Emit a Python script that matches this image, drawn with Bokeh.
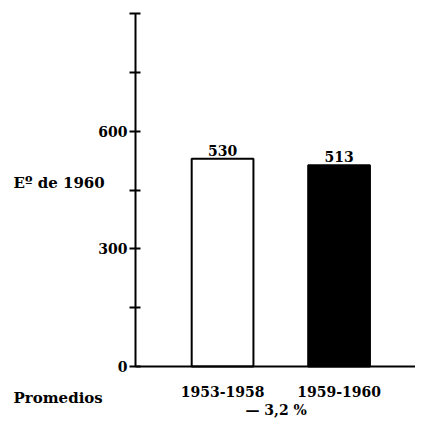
from bokeh.plotting import figure
from bokeh.models import ColumnDataSource, FixedTicker, Label, Range1d
from bokeh.core.properties import value
from bokeh.embed import file_html
from bokeh.resources import INLINE

# ---- data ----
periods = ["1953-1958", "1959-1960"]
values = [530, 513]
bar_fill = ["white", "black"]
positions = [1, 2]
y_ticks = [0, 150, 300, 450, 600, 750, 900]
y_tick_labels = ["0", "", "300", "", "600", "", ""]
y_axis_title = "Eº de 1960"
x_axis_title = "Promedios"
change_text = "— 3,2 %"

FONT = "DejaVu Serif"
X0 = 0.253  # where the vertical axis stands

src = ColumnDataSource(dict(x=positions, value=values, fill=bar_fill,
                            label=[str(v) for v in values]))

p = figure(width=415, height=420, title=None,
           x_range=Range1d(-0.906, 2.656), y_range=Range1d(-137.7, 933.2),
           output_backend="svg", toolbar_location=None,
           min_border_left=0, min_border_right=0,
           min_border_top=0, min_border_bottom=0)
p.outline_line_color = None
p.grid.visible = False
p.background_fill_color = "white"
p.border_fill_color = "white"

p.vbar(x="x", top="value", width=0.53, bottom=0, fill_color="fill",
       line_color="black", line_width=2, source=src)
p.text(x="x", y="value", text="label", text_align="center",
       text_baseline="bottom", y_offset=-3, text_font=value(FONT),
       text_font_style="bold", text_font_size="14px", text_color="black",
       source=src)

# y axis
ya = p.yaxis[0]
ya.fixed_location = X0
ya.bounds = (0, 900)
ya.ticker = FixedTicker(ticks=y_ticks)
ya.major_label_overrides = dict(zip(y_ticks, y_tick_labels))
ya.minor_tick_line_color = None
ya.major_tick_in = 5
ya.major_tick_out = 6
ya.major_tick_line_width = 2
ya.axis_line_width = 2
ya.major_label_standoff = 2
ya.major_label_text_font = FONT
ya.major_label_text_font_style = "bold"
ya.major_label_text_font_size = "14px"
ya.major_label_text_color = "black"

# x axis
xa = p.xaxis[0]
xa.fixed_location = 0
xa.bounds = (X0, 2.656)
xa.ticker = FixedTicker(ticks=positions)
xa.major_label_overrides = dict(zip(positions, periods))
xa.minor_tick_line_color = None
xa.major_tick_in = 0
xa.major_tick_out = 0
xa.axis_line_width = 2
xa.major_label_standoff = 20
xa.major_label_text_font = FONT
xa.major_label_text_font_style = "bold"
xa.major_label_text_font_size = "14px"
xa.major_label_text_color = "black"

common = dict(text_font=FONT, text_font_style="bold", text_font_size="15px",
              text_color="black", text_baseline="middle")
p.add_layout(Label(x=-0.794, y=467, text=y_axis_title, text_align="left", **common))
p.add_layout(Label(x=-0.794, y=-80, text=x_axis_title, text_align="left", **common))
p.add_layout(Label(x=1.46, y=-112, text=change_text, text_align="center",
                   text_font=FONT, text_font_style="bold", text_font_size="14px",
                   text_color="black", text_baseline="middle"))

open("out.html", "w").write(file_html(p, INLINE))
